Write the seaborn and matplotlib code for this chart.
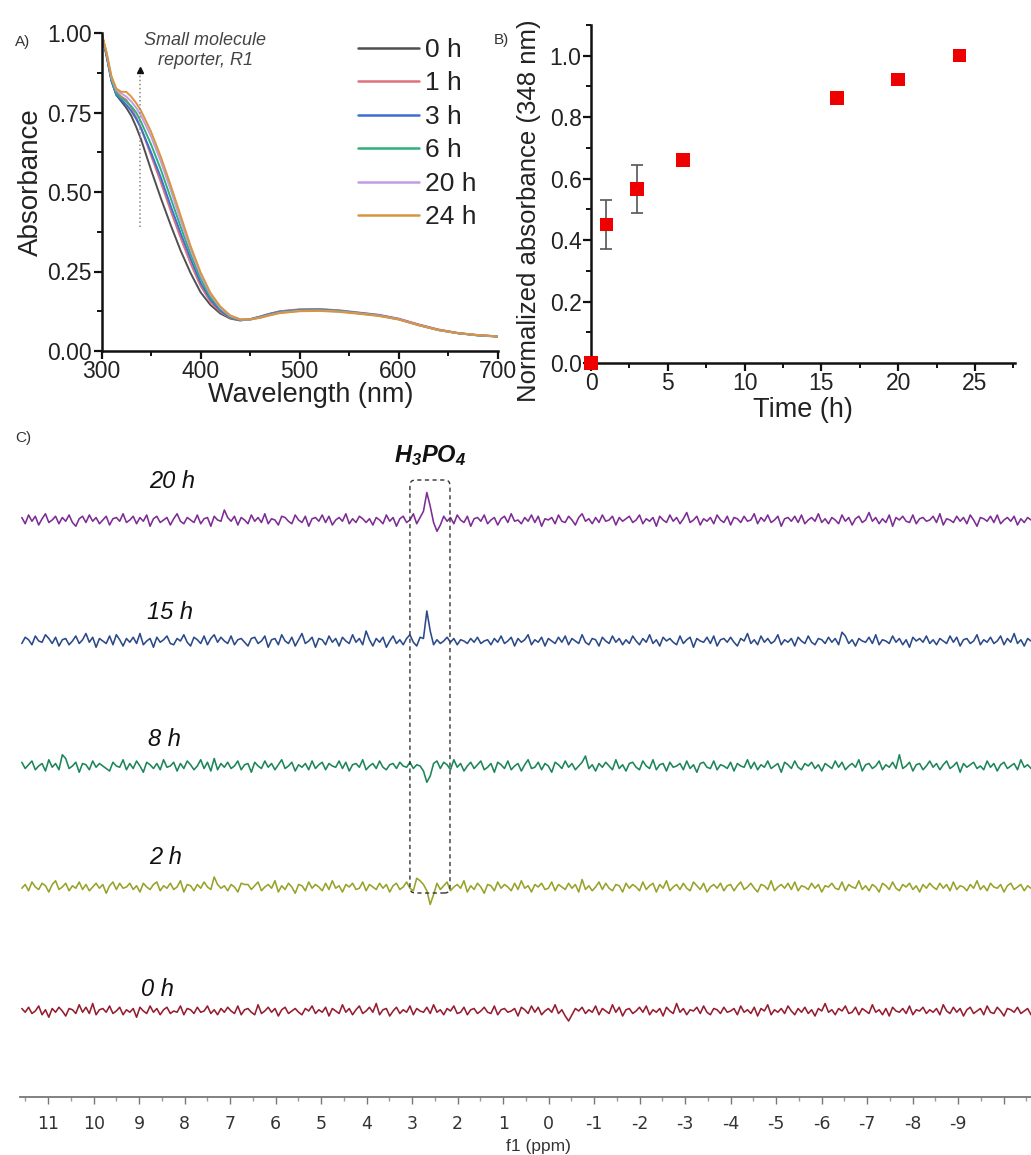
import numpy as np
import pandas as pd
import matplotlib
matplotlib.use("Agg")
import matplotlib.pyplot as plt
import seaborn as sns
from matplotlib.ticker import MultipleLocator, FixedLocator, FixedFormatter
from matplotlib.patches import FancyBboxPatch

# ---------------- Panel A data (UV-vis) ----------------
wavelength = [300, 305, 310, 315, 320, 325, 330, 335, 340, 350, 360, 370, 380, 390, 400,
              410, 420, 430, 440, 450, 460, 470, 480, 500, 520, 540, 560, 580, 600,
              620, 640, 660, 680, 700]
abs_0h = [1.00, 0.93, 0.85, 0.805, 0.785, 0.765, 0.74, 0.705, 0.665, 0.57, 0.48, 0.395, 0.315,
          0.245, 0.185, 0.145, 0.118, 0.102, 0.096, 0.100, 0.108, 0.117, 0.124, 0.130, 0.131,
          0.127, 0.120, 0.113, 0.101, 0.083, 0.067, 0.056, 0.050, 0.046]
abs_1h = [1.00, 0.935, 0.855, 0.815, 0.80, 0.79, 0.765, 0.735, 0.70, 0.615, 0.53, 0.44, 0.355,
          0.275, 0.205, 0.155, 0.123, 0.104, 0.097, 0.100, 0.108, 0.117, 0.125, 0.131, 0.132,
          0.128, 0.121, 0.114, 0.102, 0.084, 0.068, 0.057, 0.050, 0.046]
abs_3h = [1.00, 0.93, 0.85, 0.805, 0.79, 0.775, 0.755, 0.73, 0.70, 0.625, 0.545, 0.455, 0.37,
          0.29, 0.215, 0.162, 0.127, 0.106, 0.097, 0.099, 0.107, 0.116, 0.123, 0.129, 0.130,
          0.126, 0.119, 0.112, 0.100, 0.082, 0.066, 0.056, 0.049, 0.045]
abs_6h = [1.00, 0.935, 0.855, 0.81, 0.795, 0.785, 0.77, 0.75, 0.72, 0.65, 0.57, 0.48, 0.39,
          0.305, 0.228, 0.17, 0.132, 0.108, 0.098, 0.099, 0.106, 0.115, 0.122, 0.128, 0.129,
          0.126, 0.119, 0.112, 0.100, 0.082, 0.066, 0.056, 0.049, 0.046]
abs_20h = [1.00, 0.94, 0.86, 0.82, 0.81, 0.80, 0.785, 0.765, 0.74, 0.675, 0.595, 0.505, 0.41,
           0.32, 0.24, 0.178, 0.136, 0.11, 0.099, 0.099, 0.105, 0.113, 0.120, 0.126, 0.127,
           0.124, 0.118, 0.111, 0.100, 0.082, 0.066, 0.056, 0.050, 0.046]
abs_24h = [1.00, 0.94, 0.865, 0.825, 0.815, 0.815, 0.80, 0.78, 0.755, 0.69, 0.61, 0.52, 0.425,
           0.33, 0.248, 0.183, 0.14, 0.112, 0.100, 0.099, 0.104, 0.112, 0.119, 0.125, 0.126,
           0.123, 0.117, 0.110, 0.099, 0.081, 0.066, 0.056, 0.050, 0.046]
uv_labels = ["0 h", "1 h", "3 h", "6 h", "20 h", "24 h"]
uv_colors = ["#505050", "#e0707c", "#3b6fd0", "#2fb07a", "#c49ce6", "#d8953e"]

# ---------------- Panel B data ----------------
time_h = [0, 1, 3, 6, 16, 20, 24]
norm_abs = [0.0, 0.45, 0.567, 0.66, 0.862, 0.922, 1.0]
norm_err = [0.0, 0.08, 0.078, 0.01, 0.015, 0.015, 0.0]

# ---------------- Panel C data (31P NMR noise traces) ----------------
ppm_start, ppm_stop = 11.58, -10.6
nmr_labels = ["20 h", "15 h", "8 h", "2 h", "0 h"]
nmr_colors = ["#7d2c94", "#2b4a8a", "#1d8658", "#98a22a", "#961d2e"]
nmr_20h = [2,-3,4,-1,3,-4,1,5,-2,0,3,-3,2,-1,4,-2,-5,1,3,-2,4,-1,2,-3,0,3,-4,1,2,-1,
           5,-2,0,3,-3,2,-1,4,-5,1,3,-2,0,2,-4,1,5,-1,-3,2,0,-2,4,-3,1,2,-5,3,0,-1,
           8,2,-1,3,-4,2,0,-3,4,-1,2,-2,5,-3,1,0,-4,3,2,-1,-3,4,0,-2,3,-5,1,2,-1,4,
           -2,3,-4,0,2,-1,5,-3,1,-2,3,1,-2,1,-4,2,0,-3,4,-1,2,-5,1,3,-2,0,5,-3,2,7,
           22,11,-2,-9,-4,3,-1,2,-3,4,0,-2,3,-5,1,2,-1,4,-3,0,2,-4,1,3,-2,5,-1,0,-3,2,
           -1,4,-2,3,-5,1,0,2,-3,4,-1,-2,3,0,-4,2,5,-1,1,-3,2,-2,4,-1,0,3,-4,2,-1,1,
           3,-2,0,4,-3,1,-1,2,-5,3,0,-2,4,-1,2,-3,1,6,-2,0,3,-4,1,-1,2,-3,4,0,-2,3,
           -4,2,1,-2,3,-1,0,5,-3,2,-1,4,-2,0,3,-5,1,2,-1,3,-2,4,-3,0,2,-1,5,-2,1,-3,
           2,0,-3,4,-1,2,-4,1,3,-2,0,6,-1,2,-3,1,-2,4,-5,2,0,3,-1,-2,4,-3,1,2,-1,0,
           3,-2,5,-4,1,0,-2,3,-1,2,-3,4,0,-5,2,1,-1,3,-2,4,-3,0,2,-1,3,-4,1,-2,2,0]
nmr_15h = [-2,3,1,-3,4,0,-1,5,2,-2,3,-4,1,2,-3,0,4,-2,1,6,-1,3,-5,2,0,-2,4,-3,5,1,
           -4,2,-1,3,-2,6,-3,0,2,-5,3,-1,1,4,-2,-3,2,0,5,-1,-4,3,1,-2,4,-3,2,5,-1,3,
           0,-2,4,-3,1,2,-1,-4,2,3,-2,0,4,-5,1,2,-3,5,0,-2,3,-4,1,6,-2,0,3,-5,2,1,
           -3,4,-1,2,-4,3,0,-2,5,-1,2,-3,8,1,-4,2,-1,3,-5,0,4,-2,1,-3,2,5,-1,-4,3,2,
           24,8,-3,1,-2,0,3,-1,2,-3,1,0,-2,2,-1,3,-2,0,1,-3,2,-1,4,-2,0,3,-4,2,-1,1,
           5,-3,1,-1,3,-4,2,0,-2,3,-1,4,-3,2,0,-2,5,-1,-3,2,1,-4,3,0,-2,4,-1,2,-3,1,
           -2,4,0,-3,2,-1,5,-2,1,-4,3,0,2,-1,-3,4,-2,1,3,-5,2,0,-1,3,-2,4,-4,1,2,-1,
           3,-1,-4,2,0,6,-2,1,-3,4,-1,2,-2,0,5,-3,1,-1,2,-4,3,0,-2,4,-1,-3,2,1,-2,3,
           -1,2,-3,7,4,-2,1,-4,2,0,-1,3,-2,5,-3,1,0,-2,4,-1,2,-3,1,-5,3,0,2,-1,4,-2,
           1,-3,2,0,-2,4,-1,3,-4,1,2,-2,0,5,-3,1,-1,3,-2,0,4,-3,2,-1,6,-2,1,-4,2,0]
nmr_8h = [3,-2,1,4,-3,0,2,-4,5,-1,2,-3,9,6,-2,0,3,-5,2,1,-3,4,-1,2,0,-2,-4,3,0,-1,
          5,-3,2,-2,4,0,-5,3,1,-2,2,-3,5,-1,0,3,-4,2,-2,4,1,-3,0,5,-2,3,-4,6,-3,2,
          -1,3,-2,0,4,-3,1,2,-5,3,0,-2,4,-1,2,-3,1,5,-2,0,3,-4,1,-1,2,-3,4,-2,1,3,
          -3,2,0,-1,4,-2,3,-4,1,2,-1,5,-3,0,2,-2,4,-1,-3,1,2,-2,3,0,-1,3,-2,1,0,-4,
          -13,-8,2,4,-2,3,1,-3,5,-1,2,-4,0,3,-2,1,4,-3,-1,2,-5,3,1,-2,4,-3,0,2,-4,1,
          5,-2,-1,3,-3,2,0,-5,3,1,-2,4,-1,2,-3,0,3,8,-2,1,-4,2,-1,3,0,-3,5,-2,1,-4,
          2,3,-1,-3,4,0,-2,5,-3,1,2,-4,3,-1,0,2,-3,4,-2,1,-5,2,3,-1,-2,4,-3,1,0,-2,
          3,-4,2,0,-1,5,-2,3,-3,1,-1,4,-2,0,2,-5,3,1,-2,4,-1,-3,2,0,3,-2,1,-4,2,0,
          -2,4,-1,3,-3,0,2,-1,5,-4,1,2,-2,0,4,-3,1,-1,3,-2,9,-2,0,3,-4,1,2,-3,0,4,
          -1,2,-3,1,4,-2,0,3,-5,2,-1,1,3,-2,0,-3,4,-1,2,-4,1,3,-2,0,2,-3,5,-1,1,-2]
nmr_2h = [-1,2,-3,4,0,-2,3,1,-4,2,5,-2,0,3,-3,1,-1,4,-2,2,-3,0,3,-1,2,-5,1,4,-2,3,
          -1,0,3,-2,1,-4,3,0,-2,2,4,-3,1,-1,3,-2,0,5,-4,2,1,-3,2,-1,4,0,-2,8,2,-1,
          1,-3,2,0,-4,3,2,2,-2,1,4,-3,0,2,-1,5,-4,1,-2,3,0,-5,2,1,-3,4,-1,2,0,-3,
          3,-2,5,-1,1,-4,2,0,3,-2,-1,4,-3,2,0,-2,3,-1,2,-4,1,3,-2,0,4,-1,-3,7,5,2,
          -3,-14,-6,3,-2,1,4,-3,0,2,-1,5,-4,1,-2,3,0,-5,2,1,-3,4,-1,2,0,-3,3,-2,5,-1,
          1,-4,2,0,3,-2,-1,4,-3,2,0,-2,3,-1,2,-4,6,-2,1,-3,0,4,-2,3,-1,-3,2,1,-4,3,
          -1,2,0,-3,4,-2,1,3,-4,2,-1,5,-3,0,2,-2,3,-1,-3,4,1,-2,3,-4,0,2,-1,3,-3,1,
          2,-3,1,4,-2,0,3,-1,-4,2,1,-2,5,-3,0,2,-1,3,-2,4,-3,1,0,-2,3,-1,2,-4,1,0,
          3,-1,-2,4,-3,2,0,-1,5,-2,1,-3,2,0,-4,3,1,-2,4,-1,-3,2,0,3,-2,1,-4,2,-1,3,
          0,-2,3,-1,2,-3,4,-2,1,0,-3,2,-1,5,-2,1,-3,3,0,-1,2,-4,1,3,-2,0,2,-3,1,-1]
nmr_0h = [2,-1,3,-2,0,4,-3,1,-5,2,-1,3,0,-4,2,1,-2,5,-1,3,-2,6,-3,1,2,-1,4,-2,0,3,
          -3,1,-1,2,-5,3,0,-2,4,-1,2,-3,1,3,-2,0,-1,4,-3,2,1,-2,3,-1,0,4,-2,1,-3,2,
          -1,3,0,-2,4,-3,1,2,-1,-3,5,-2,0,3,-1,2,-4,1,3,-2,0,2,-1,-3,2,0,4,-2,1,-1,
          3,-4,2,0,-2,5,-1,2,-3,1,4,-2,0,3,-1,6,-3,1,2,-4,0,3,-2,1,-1,4,-3,2,0,-1,
          3,-2,5,-1,1,-3,2,0,4,-2,-1,3,-3,1,2,-2,0,3,-1,-2,4,-3,1,2,-1,0,2,-4,3,1,
          -2,4,-1,3,-3,0,2,-1,5,-2,1,-4,-8,-3,2,0,3,-2,1,-1,4,-3,2,0,-2,5,-1,3,-4,1,
          2,-2,0,3,-1,4,-3,1,-1,2,-4,3,0,-2,6,-1,2,-3,1,0,3,-2,4,-1,-3,2,1,-2,3,-1,
          0,2,-3,4,-1,1,-2,3,-4,2,0,5,-3,1,-1,2,-2,4,0,-3,2,-1,3,-2,1,-4,2,0,6,-1,
          1,-3,2,0,4,-2,-1,3,-3,2,0,-2,5,-1,1,-3,2,-4,3,0,-1,2,-2,4,-3,1,0,3,-2,1,
          -1,2,-3,5,0,-2,3,-1,2,-4,1,3,-2,0,2,-3,4,-1,-2,3,0,-4,2,1,-1,3,-2,0,2,-3]
ppm_ticks = list(range(-10, 12))
ppm_ticklabels = ["" if t == -10 else str(t) for t in ppm_ticks]

# ---------------- Style ----------------
sns.set_theme(style="ticks")
plt.rcParams["font.family"] = ["Liberation Sans", "DejaVu Sans"]
plt.rcParams["axes.unicode_minus"] = False
plt.rcParams["mathtext.default"] = "regular"

W, H = 1031, 1155
fig = plt.figure(figsize=(W / 100, H / 100), dpi=100)


def frac(x0, y0, x1, y1):
    return [x0 / W, 1 - y1 / H, (x1 - x0) / W, (y1 - y0) / H]


# ---------------- Panel A ----------------
axA = fig.add_axes(frac(101.5, 33, 497.5, 351))
series = [abs_0h, abs_1h, abs_3h, abs_6h, abs_20h, abs_24h]
dfA = pd.DataFrame({
    "wl": np.tile(wavelength, len(series)),
    "A": np.concatenate(series),
    "t": np.repeat(uv_labels, len(wavelength)),
})
sns.lineplot(data=dfA, x="wl", y="A", hue="t", palette=dict(zip(uv_labels, uv_colors)),
             hue_order=uv_labels, ax=axA, lw=1.4, estimator=None, sort=False)
axA.set_xlim(300, 700)
axA.set_ylim(0, 1.0)
axA.xaxis.set_major_locator(MultipleLocator(100))
axA.xaxis.set_minor_locator(MultipleLocator(50))
axA.yaxis.set_major_locator(MultipleLocator(0.25))
axA.yaxis.set_minor_locator(MultipleLocator(0.125))
axA.yaxis.set_major_formatter(matplotlib.ticker.FormatStrFormatter("%.2f"))
axA.set_xlabel("Wavelength (nm)", fontsize=19.5, color="#222")
axA.set_ylabel("Absorbance", fontsize=20, color="#222")
axA.xaxis.set_label_coords(0.527, -0.098)
axA.yaxis.set_label_coords(-0.145, 0.53)
leg = axA.legend(loc="upper left", bbox_to_anchor=(0.648, 0.985), frameon=False,
                 fontsize=19, handlelength=2.3, handletextpad=0.25, labelspacing=0.36,
                 borderpad=0, borderaxespad=0)
for lh in leg.get_lines():
    lh.set_linewidth(1.8)
for txt in leg.get_texts():
    txt.set_color("#222")
# dotted arrow annotation
axA.plot([339, 339], [0.39, 0.875], ls=":", color="#888", lw=1.1)
axA.plot([339], [0.885], marker="^", color="#111", ms=5)
axA.text(405, 0.945, "Small molecule\nreporter, R1",
         ha="center", va="center", style="italic", fontsize=13, color="#444",
         linespacing=1.2)

# ---------------- Panel B ----------------
axB = fig.add_axes(frac(591, 25, 1015, 363))
axB.errorbar(time_h, norm_abs, yerr=norm_err, fmt="none", ecolor="#555", elinewidth=1.2,
             capsize=4, capthick=1.2, zorder=2)
sns.scatterplot(x=time_h, y=norm_abs, marker="s", s=95, color="#ee0000", edgecolor="none",
                ax=axB, zorder=3, clip_on=False)
axB.set_xlim(0, 27.6)
axB.set_ylim(0, 1.1)
axB.xaxis.set_major_locator(MultipleLocator(5))
axB.xaxis.set_minor_locator(MultipleLocator(2.5))
axB.yaxis.set_major_locator(MultipleLocator(0.2))
axB.yaxis.set_minor_locator(MultipleLocator(0.1))
axB.set_xlabel("Time (h)", fontsize=19.5, color="#222")
axB.set_ylabel("Normalized absorbance (348 nm)", fontsize=18.5, color="#222")
axB.xaxis.set_label_coords(0.5, -0.10)
axB.yaxis.set_label_coords(-0.118, 0.45)

for ax in (axA, axB):
    sns.despine(ax=ax)
    for sp in ("left", "bottom"):
        ax.spines[sp].set_linewidth(1.8)
        ax.spines[sp].set_color("#111")
    ax.tick_params(which="major", direction="out", length=6, width=1.6, labelsize=16.5,
                   colors="#111", labelcolor="#222", pad=0.8)
    ax.tick_params(which="minor", direction="out", length=3.5, width=1.4, colors="#111")

# ---------------- Panel C ----------------
axC = fig.add_axes(frac(20, 450, 1031, 1097))
axC.set_xlim(11.62, -10.6)
axC.set_ylim(0, 647)
traces = [nmr_20h, nmr_15h, nmr_8h, nmr_2h, nmr_0h]
baselines = [520, 641, 766, 887, 1011]   # pixel rows of each trace
amp = 1.25
for vals, col, row in zip(traces, nmr_colors, baselines):
    ppm = np.linspace(ppm_start, ppm_stop, len(vals))
    sns.lineplot(x=ppm, y=np.array(vals) * amp + (1097 - row), ax=axC, color=col, lw=1.15,
                 estimator=None, sort=False)
label_pos = [(8.28, 615), (8.33, 484), (8.45, 357), (8.43, 239), (8.59, 107)]
for lab, (xx, yy) in zip(nmr_labels, label_pos):
    axC.text(xx, yy, lab, ha="center", va="center", style="italic", fontsize=17, color="#111")
box = FancyBboxPatch((2.17, 204), 0.88, 413,
                     boxstyle="round,pad=0,rounding_size=0.12", mutation_aspect=45.5,
                     fill=False, ls=(0, (3, 2.5)), lw=1.0, ec="#333", zorder=4)
axC.add_patch(box)
axC.text(2.61, 641, "H$_3$PO$_4$", ha="center", va="center", fontsize=17,
         fontweight="bold", style="italic", color="#111")
sns.despine(ax=axC, left=True)
axC.spines["bottom"].set_color("#777")
axC.spines["bottom"].set_linewidth(1.3)
axC.set_yticks([])
axC.xaxis.set_major_locator(FixedLocator(ppm_ticks))
axC.xaxis.set_major_formatter(FixedFormatter(ppm_ticklabels))
axC.xaxis.set_minor_locator(MultipleLocator(0.5))
axC.tick_params(axis="x", which="major", direction="out", length=5, width=1, colors="#777",
                labelcolor="#333", labelsize=12.5, pad=8)
axC.tick_params(axis="x", which="minor", direction="out", length=3, width=1, colors="#999")
for t in axC.get_xticklabels():
    t.set_fontfamily(["Liberation Sans Narrow", "DejaVu Sans"])
axC.set_xlabel("f1 (ppm)", fontsize=12.5, color="#333", labelpad=0)
axC.xaxis.set_label_coords((538 - 20) / 1011, -(1139 - 1097) / 647)
axC.set_facecolor("none")

# panel letters
fig.text(15 / W, 1 - 42 / H, "A)", fontsize=11, color="#333", va="center")
fig.text(494 / W, 1 - 40 / H, "B)", fontsize=11, color="#333", va="center")
fig.text(15 / W, 1 - 438 / H, "C)", fontsize=11, color="#333", va="center")

fig.savefig("out.png", dpi=100, facecolor="white")
